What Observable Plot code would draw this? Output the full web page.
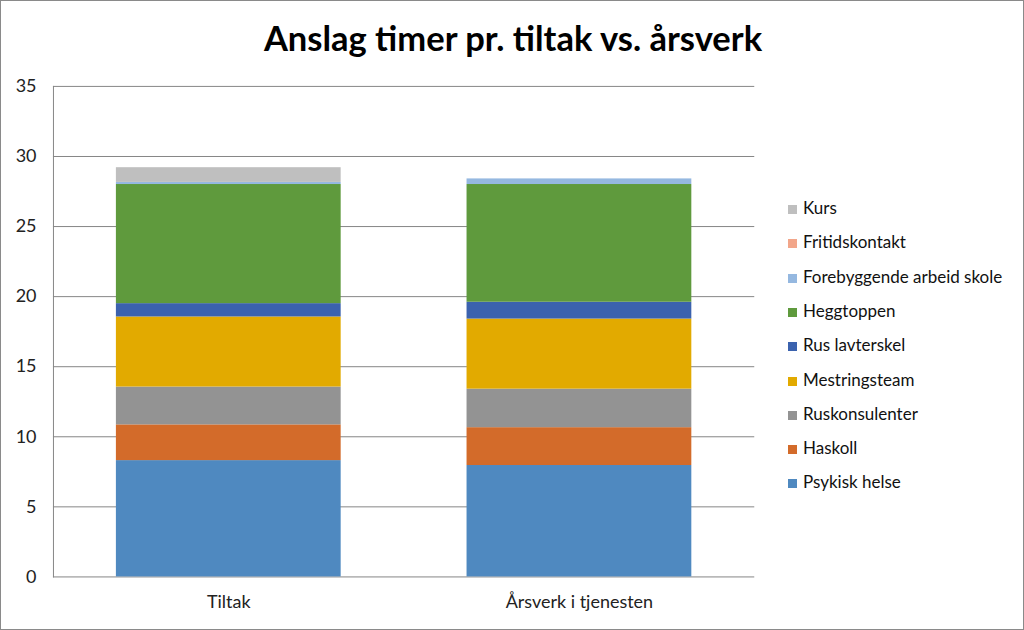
<!DOCTYPE html>
<html>
<head>
<meta charset="utf-8">
<script src="https://cdn.jsdelivr.net/npm/d3@7"></script>
<script src="https://cdn.jsdelivr.net/npm/@observablehq/plot@0.6"></script>
<style>
  html, body { margin: 0; padding: 0; background: #fff; }
  #wrap { position: relative; width: 1022px; height: 628px; border: 1px solid #8a8a8a; overflow: hidden; font-family: Lato, "Open Sans", sans-serif; }
  #title { position: absolute; left: 0; width: 1024px; top: 16px; text-align: center; font-weight: bold; font-size: 34.5px; color: #000; }
  #chart { position: absolute; left: -1px; top: -1px; }
  #legend { position: absolute; left: 787px; top: 196px; }
  .row { position: absolute; left: 0; height: 22px; white-space: nowrap; font-size: 17px; color: #111; line-height: 22px; }
  .sw { display: inline-block; width: 9px; height: 9px; margin-right: 6px; vertical-align: 0px; }
</style>
</head>
<body>
<div id="wrap">
  <div id="chart"></div>
  <div id="title">Anslag timer pr. tiltak vs. årsverk</div>
  <div id="legend"></div>
</div>
<script>
const categories = ["Tiltak", "Årsverk i tjenesten"];
const seriesNames = ["Psykisk helse", "Haskoll", "Ruskonsulenter", "Mestringsteam", "Rus lavterskel", "Heggtoppen", "Forebyggende arbeid skole", "Fritidskontakt", "Kurs"];
const seriesColors = ["#4f89c0", "#d36b2a", "#939393", "#e2aa00", "#3b62ae", "#5f9a3d", "#95b8e0", "#f2a68a", "#bfbfbf"];
const tiltakValues = [8.3, 2.55, 2.7, 5.0, 0.95, 8.5, 0.15, 0, 1.05];
const arsverkValues = [7.95, 2.7, 2.75, 5.0, 1.2, 8.4, 0.4, 0, 0];
const yTicks = [0, 5, 10, 15, 20, 25, 30, 35];

const valuesByCategory = [tiltakValues, arsverkValues];
const data = [];
categories.forEach((c, ci) => {
  seriesNames.forEach((s, si) => {
    data.push({category: c, series: s, value: valuesByCategory[ci][si]});
  });
});

const chart = Plot.plot({
  width: 1024,
  height: 630,
  marginLeft: 53,
  marginRight: 269,
  marginTop: 86,
  marginBottom: 53,
  style: {fontFamily: "Lato, 'Open Sans', sans-serif", background: "transparent"},
  x: {domain: categories, paddingInner: 0.36, paddingOuter: 0.18, label: null},
  y: {domain: [0, 35], label: null},
  color: {domain: seriesNames, range: seriesColors},
  marks: [
    Plot.ruleY(yTicks, {stroke: "#868686", strokeWidth: 1}),
    Plot.barY(data, {x: "category", y: "value", fill: "series", order: seriesNames}),
    Plot.frame({anchor: "left", stroke: "#868686"}),
    Plot.axisY(yTicks, {tickSize: 0, tickPadding: 17, fontSize: 18, fill: "#222", label: null}),
    Plot.axisX({tickSize: 0, tickPadding: 18, fontSize: 18, fill: "#222", label: null})
  ]
});
document.getElementById("chart").appendChild(chart);

const legend = document.getElementById("legend");
const legendOrder = seriesNames.slice().reverse();
legendOrder.forEach((s, i) => {
  const row = document.createElement("div");
  row.className = "row";
  row.style.top = (i * 34.3) + "px";
  const sw = document.createElement("span");
  sw.className = "sw";
  sw.style.background = seriesColors[seriesNames.indexOf(s)];
  row.appendChild(sw);
  row.appendChild(document.createTextNode(s));
  legend.appendChild(row);
});
</script>
</body>
</html>
